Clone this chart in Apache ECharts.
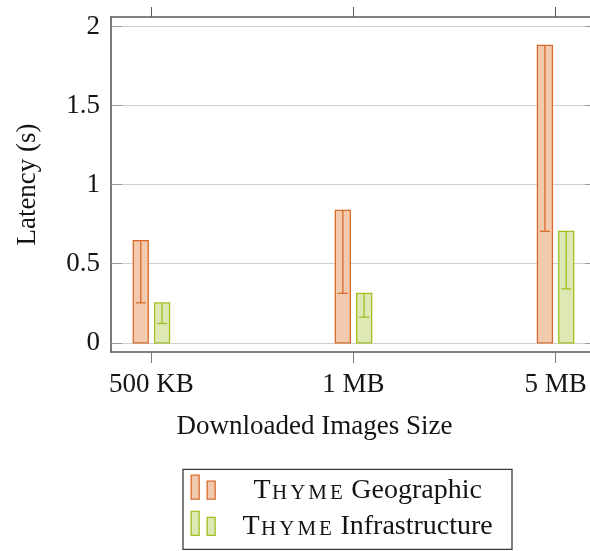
<!DOCTYPE html>
<html>
<head>
<meta charset="utf-8">
<script src="https://cdn.jsdelivr.net/npm/echarts@6/dist/echarts.min.js"></script>
<style>
  html, body { margin: 0; padding: 0; background: #ffffff; }
  #chart { width: 590px; height: 551px; }
</style>
</head>
<body>
<div id="chart"></div>
<script>
// Download latency per image size, with the lower end of each error bar
const sizes = ['500 KB', '1 MB', '5 MB'];
const seriesNames = ['Thyme Geographic', 'Thyme Infrastructure'];
const geoLatency = [0.646, 0.838, 1.88];
const geoLower = [0.253, 0.313, 0.705];
const infraLatency = [0.253, 0.313, 0.705];
const infraLower = [0.122, 0.162, 0.341];
const yTicks = [0, 0.5, 1, 1.5, 2];
const xTicks = [0, 1, 2];

const FONT = 'Liberation Serif';
const TEXT = '#141414';
const FRAME = '#5a5a5a';
const fills = ['#f2cbae', '#dde8b5'];
const strokes = ['#d86b2c', '#a2c021'];

const BAR_W = 15;      // inner bar width, px
const BAR_STEP = 21.3; // distance between the two bar centres in a group, px
const CAP_W = 10;      // error-bar cap width, px

function barWithError(slot, k) {
  return function (params, api) {
    const x = api.value(0);
    const base = api.coord([x, 0]);
    const top = api.coord([x, api.value(1)]);
    const low = api.coord([x, api.value(2)]);
    const cx = base[0] + slot * BAR_STEP / 2;
    const line = { stroke: strokes[k], lineWidth: 1.3 };
    return {
      type: 'group',
      children: [
        { type: 'rect',
          shape: { x: cx - BAR_W / 2, y: top[1], width: BAR_W, height: base[1] - top[1] },
          style: { fill: fills[k], stroke: strokes[k], lineWidth: 1.3 } },
        { type: 'line', shape: { x1: cx, y1: top[1], x2: cx, y2: low[1] }, style: line },
        { type: 'line', shape: { x1: cx - CAP_W / 2, y1: low[1], x2: cx + CAP_W / 2, y2: low[1] }, style: line }
      ]
    };
  };
}

// "Thyme" is set in small capitals
function smallCaps(name) {
  const words = name.split(' ');
  const first = words[0];
  const letters = first.slice(1).toUpperCase().split('').map(c => '{sc|' + c + '}').join('');
  return '{cap|' + first[0] + '}' + letters + '{txt| ' + words.slice(1).join(' ') + '}';
}

const chart = echarts.init(document.getElementById('chart'), null, { renderer: 'canvas' });

const xCommon = { type: 'value', min: -0.2, max: 2.2, splitLine: { show: false } };
const yCommon = { type: 'value', min: -0.058, max: 2.06 };

chart.setOption({
  animation: false,
  backgroundColor: '#ffffff',
  textStyle: { fontFamily: FONT },
  grid: { left: 111, top: 17, width: 485, height: 335, containLabel: false, outerBoundsMode: 'none' },
  xAxis: [
    Object.assign({}, xCommon, {
      position: 'bottom',
      axisLine: { show: true, onZero: false, lineStyle: { color: FRAME, width: 1.6 } },
      axisTick: { show: true, inside: false, length: 11, customValues: xTicks, lineStyle: { color: '#7a7a7a', width: 1 } },
      axisLabel: { customValues: xTicks, formatter: v => sizes[v], margin: 19,
        fontFamily: FONT, fontSize: 27, color: TEXT },
      name: 'Downloaded Images Size', nameLocation: 'middle', nameGap: 61,
      nameTextStyle: { fontFamily: FONT, fontSize: 27, color: TEXT, padding: [0, 78, 0, 0] }
    }),
    Object.assign({}, xCommon, {
      position: 'top',
      axisLine: { show: true, onZero: false, lineStyle: { color: FRAME, width: 1.6 } },
      axisTick: { show: true, inside: false, length: 10, customValues: xTicks, lineStyle: { color: '#5a5a5a', width: 1 } },
      axisLabel: { show: false }
    })
  ],
  yAxis: [
    Object.assign({}, yCommon, {
      position: 'left',
      axisLine: { show: true, onZero: false, lineStyle: { color: FRAME, width: 1.6 } },
      axisTick: { show: true, inside: true, length: 11, customValues: yTicks, lineStyle: { color: '#9a9a9a', width: 1 } },
      axisLabel: { customValues: yTicks, formatter: v => String(v), margin: 11,
        fontFamily: FONT, fontSize: 27, color: TEXT },
      splitLine: { show: true, lineStyle: { color: '#cfcfcf', width: 1 } },
      name: 'Latency (s)', nameLocation: 'middle', nameGap: 70, nameRotate: 90,
      nameTextStyle: { fontFamily: FONT, fontSize: 27, color: TEXT }
    }),
    Object.assign({}, yCommon, {
      position: 'right',
      axisLine: { show: true, onZero: false, lineStyle: { color: FRAME, width: 1.6 } },
      axisTick: { show: true, inside: true, length: 11, customValues: yTicks, lineStyle: { color: '#9a9a9a', width: 1 } },
      axisLabel: { show: false },
      splitLine: { show: false }
    })
  ],
  // frame around the legend
  graphic: [{
    type: 'rect', silent: true,
    shape: { x: 183, y: 469.3, width: 329, height: 80 },
    style: { fill: 'none', stroke: '#3a3a3a', lineWidth: 1.3 }
  }],
  legend: {
    orient: 'vertical', left: 183, top: 469, height: 76,
    itemWidth: 24, itemHeight: 24, itemGap: 6.5,
    padding: [5.5, 0, 10, 7.5],
    data: seriesNames.map((n, k) => ({
      name: n,
      icon: 'path://M0,0H8V24H0ZM16,6H24V24H16Z',
      itemStyle: { color: fills[k], borderColor: strokes[k], borderWidth: 1.3 }
    })),
    formatter: smallCaps,
    textStyle: {
      width: 295, color: TEXT, fontFamily: FONT, fontSize: 28,
      padding: [6, 0, 0, 0],
      rich: {
        cap: { fontFamily: FONT, fontSize: 28, color: TEXT, align: 'center', verticalAlign: 'bottom' },
        sc: { fontFamily: FONT, fontSize: 21, color: TEXT, align: 'center', verticalAlign: 'bottom', padding: [0, 1.5, 0, 1.5] },
        txt: { fontFamily: FONT, fontSize: 28, color: TEXT, align: 'center', verticalAlign: 'bottom' }
      }
    }
  },
  series: [
    {
      name: seriesNames[0], type: 'custom',
      itemStyle: { color: fills[0], borderColor: strokes[0] },
      encode: { x: 0, y: [1, 2] },
      data: sizes.map((s, i) => [i, geoLatency[i], geoLower[i]]),
      renderItem: barWithError(-1, 0)
    },
    {
      name: seriesNames[1], type: 'custom',
      itemStyle: { color: fills[1], borderColor: strokes[1] },
      encode: { x: 0, y: [1, 2] },
      data: sizes.map((s, i) => [i, infraLatency[i], infraLower[i]]),
      renderItem: barWithError(1, 1)
    }
  ]
});
</script>
</body>
</html>
